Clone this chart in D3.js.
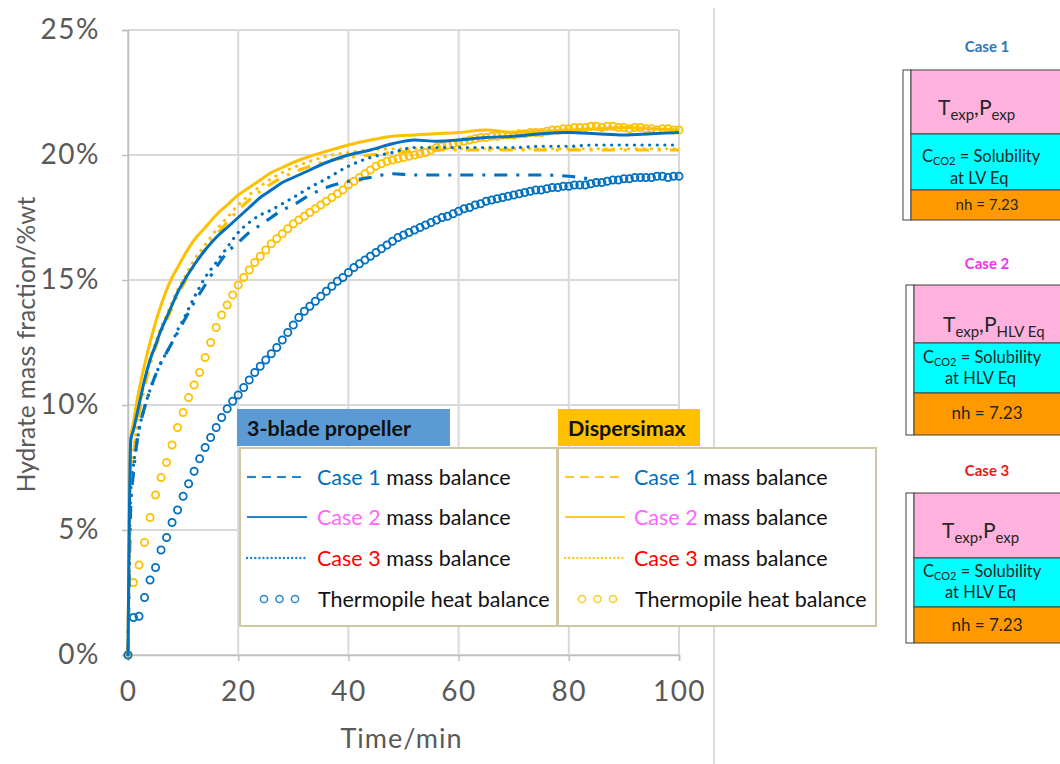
<!DOCTYPE html>
<html>
<head>
<meta charset="utf-8">
<script src="https://cdn.jsdelivr.net/npm/d3@7"></script>
<style>
  body { margin: 0; background: #fff; }
  svg { display: block; font-family: Lato, "Open Sans", sans-serif; }
</style>
</head>
<body>
<svg id="chart" width="1060" height="764"></svg>
<script>
// ---- data ----
const lineTimes = [0, 0.5, 1, 1.5, 2, 3, 4, 5, 6, 7, 8, 9, 10, 12, 14, 16, 18, 20, 22, 24, 26, 28, 30, 33, 36, 40, 44, 48, 52, 56, 60, 65, 70, 75, 80, 85, 90, 95, 100];

const propCase1 = [0, 6.0, 7.3, 8.3, 9.0, 9.9, 10.6, 11.2, 11.7, 12.1, 12.5, 12.9, 13.3, 14.1, 14.8, 15.5, 16.1, 16.5, 16.9, 17.2, 17.5, 17.8, 18.0, 18.4, 18.7, 18.95, 19.1, 19.25, 19.2, 19.2, 19.2, 19.2, 19.2, 19.2, 19.15, 19.0];
const propCase2 = [0, 8.6, 9.0, 9.5, 10.0, 11.0, 11.8, 12.4, 13.0, 13.5, 14.0, 14.5, 14.9, 15.6, 16.2, 16.7, 17.1, 17.5, 17.9, 18.3, 18.6, 18.9, 19.1, 19.4, 19.7, 20.0, 20.2, 20.45, 20.6, 20.55, 20.6, 20.7, 20.75, 20.85, 20.9, 20.85, 20.8, 20.85, 20.9];
const propCase3 = [0, 6.5, 7.6, 8.3, 9.0, 9.9, 10.6, 11.2, 11.7, 12.1, 12.5, 13.0, 13.4, 14.3, 15.1, 15.7, 16.3, 16.9, 17.3, 17.6, 17.8, 18.05, 18.3, 18.7, 19.05, 19.55, 19.9, 20.1, 20.3, 20.3, 20.3, 20.3, 20.3, 20.35, 20.35, 20.4, 20.4, 20.4, 20.4];

const dispCase1 = [0, 6.8, 8.0, 8.8, 9.6, 10.7, 11.6, 12.3, 12.9, 13.4, 13.9, 14.4, 14.8, 15.6, 16.2, 16.8, 17.3, 17.8, 18.2, 18.55, 18.85, 19.1, 19.3, 19.55, 19.75, 19.9, 20.0, 20.1, 20.15, 20.2, 20.2, 20.2, 20.2, 20.2, 20.2, 20.2, 20.2, 20.2, 20.2];
const dispCase2 = [0, 8.7, 9.3, 10.0, 10.6, 11.6, 12.5, 13.3, 14.0, 14.6, 15.1, 15.5, 15.9, 16.6, 17.1, 17.6, 18.0, 18.4, 18.7, 19.0, 19.3, 19.5, 19.7, 19.95, 20.15, 20.4, 20.6, 20.75, 20.8, 20.85, 20.9, 21.0, 20.9, 20.95, 21.0, 21.05, 21.1, 21.05, 21.0];
const dispCase3 = [0, 7.0, 8.2, 9.0, 9.8, 10.9, 11.8, 12.5, 13.1, 13.6, 14.1, 14.6, 15.0, 15.8, 16.4, 17.0, 17.5, 18.0, 18.4, 18.75, 19.05, 19.3, 19.5, 19.75, 19.95, 20.1, 20.2, 20.25, 20.25, 20.25, 20.25, 20.25, 20.25, 20.25, 20.25, 20.25, 20.25, 20.25, 20.25];

// thermopile heat balance, one point per minute
const heatTimes = d3.range(0, 101);
const propHeat = [0, 1.5, 1.55, 2.3, 3.0, 3.5, 4.2, 4.7, 5.3, 5.8, 6.35, 6.85, 7.35, 7.85, 8.3, 8.7, 9.1, 9.5, 9.85, 10.15,
  10.4, 10.7, 11.0, 11.3, 11.55, 11.8, 12.05, 12.3, 12.6, 12.9, 13.2, 13.5, 13.75, 13.95, 14.15, 14.35, 14.55, 14.75, 14.95, 15.1,
  15.3, 15.5, 15.65, 15.8, 15.95, 16.1, 16.25, 16.4, 16.55, 16.7, 16.8, 16.9, 17.0, 17.1, 17.2, 17.3, 17.4, 17.5, 17.55, 17.65,
  17.75, 17.85, 17.9, 18.0, 18.05, 18.15, 18.2, 18.25, 18.3, 18.35, 18.4, 18.45, 18.5, 18.55, 18.6, 18.6, 18.65, 18.7, 18.7, 18.75,
  18.75, 18.8, 18.8, 18.8, 18.85, 18.9, 18.9, 18.95, 19.0, 19.0, 19.05, 19.05, 19.1, 19.1, 19.1, 19.1, 19.15, 19.15, 19.1, 19.15, 19.15];
const dispHeat = [0, 2.9, 3.6, 4.5, 5.5, 6.4, 7.1, 7.7, 8.4, 9.1, 9.7, 10.3, 10.8, 11.3, 11.9, 12.5, 13.1, 13.6, 14.0, 14.4,
  14.8, 15.1, 15.4, 15.7, 15.95, 16.2, 16.45, 16.65, 16.85, 17.05, 17.25, 17.4, 17.55, 17.7, 17.85, 18.0, 18.15, 18.3, 18.45, 18.6,
  18.8, 18.95, 19.1, 19.25, 19.4, 19.55, 19.65, 19.75, 19.8, 19.85, 19.9, 19.95, 20.0, 20.05, 20.1, 20.2, 20.3, 20.35, 20.4, 20.45,
  20.5, 20.55, 20.6, 20.65, 20.7, 20.7, 20.75, 20.75, 20.8, 20.8, 20.8, 20.85, 20.85, 20.9, 20.9, 20.9, 20.95, 21.0, 21.0, 21.05,
  21.05, 21.1, 21.1, 21.1, 21.15, 21.15, 21.1, 21.15, 21.15, 21.1, 21.1, 21.05, 21.1, 21.1, 21.05, 21.05, 21.0, 21.05, 21.05, 21.0, 21.0];

const xTicks = [0, 20, 40, 60, 80, 100];
const yTicks = [0, 5, 10, 15, 20, 25];

const legendGroups = ["3-blade propeller", "Dispersimax"];
const legendCases = ["Case 1", "Case 2", "Case 3"];
const legendRest = ["mass balance", "mass balance", "mass balance"];
const heatLabel = "Thermopile heat balance";

const panelTitles = ["Case 1", "Case 2", "Case 3"];
const panelPressure = ["exp", "HLV Eq", "exp"];
const panelSolubility = ["at LV Eq", "at HLV Eq", "at HLV Eq"];
const panelNh = ["nh = 7.23", "nh = 7.23", "nh = 7.23"];

// ---- styling ----
const blue = "#0070C0";
const gold = "#FFC000";
const caseColors = ["#0070C0", "#FF66FF", "#FF0000"];
const titleColors = ["#2E75B6", "#EE33EE", "#E81818"];
const axisGray = "#595959";

const svg = d3.select("#chart");
const margin = { top: 30, right: 381, bottom: 109, left: 128 };
const width = 1060 - margin.left - margin.right;
const height = 764 - margin.top - margin.bottom;

const g = svg.append("g").attr("transform", `translate(${margin.left},${margin.top})`);

const x = d3.scaleLinear().domain([0, 100]).range([0, width]);
const y = d3.scaleLinear().domain([0, 25]).range([height, 0]);

// grid
g.selectAll(".vgrid").data(xTicks).enter().append("line")
  .attr("x1", d => x(d)).attr("x2", d => x(d))
  .attr("y1", 0).attr("y2", height)
  .style("stroke", "#D9D9D9").style("stroke-width", 2);
g.selectAll(".hgrid").data(yTicks).enter().append("line")
  .attr("x1", 0).attr("x2", width)
  .attr("y1", d => y(d)).attr("y2", d => y(d))
  .style("stroke", "#D9D9D9").style("stroke-width", 2);

// axes
const xAxis = g.append("g")
  .attr("transform", `translate(0,${height})`)
  .call(d3.axisBottom(x).tickValues(xTicks).tickSize(6).tickPadding(20));
const yAxis = g.append("g")
  .call(d3.axisLeft(y).tickValues(yTicks).tickSize(6).tickPadding(22).tickFormat(d => d + "%"));
[xAxis, yAxis].forEach(a => {
  a.select(".domain").style("stroke", "#BFBFBF").style("stroke-width", 1.5);
  a.selectAll(".tick line").style("stroke", "#BFBFBF").style("stroke-width", 1.5);
  a.selectAll("text")
    .style("font-family", "Lato, sans-serif").style("font-size", "28px")
    .style("letter-spacing", "1.5px").style("fill", axisGray);
});

svg.append("text")
  .attr("x", margin.left + width / 2 - 2)
  .attr("y", 748)
  .attr("text-anchor", "middle")
  .style("font-size", "27px").style("letter-spacing", "1px").style("fill", axisGray)
  .text("Time/min");

svg.append("text")
  .attr("transform", `translate(35,${margin.top + height / 2 + 2}) rotate(-90)`)
  .attr("text-anchor", "middle")
  .style("font-size", "24.5px").style("fill", axisGray)
  .text("Hydrate mass fraction/%wt");

// separator
svg.append("line")
  .attr("x1", 714).attr("x2", 714).attr("y1", 8).attr("y2", 764)
  .style("stroke", "#D0D0D0").style("stroke-width", 1.5);

// series
const line = d3.line()
  .x(d => x(d.t)).y(d => y(d.v))
  .curve(d3.curveMonotoneX);

const pair = vals => vals.map((v, i) => ({ t: lineTimes[i], v: v }));
const pairHeat = vals => vals.map((v, i) => ({ t: heatTimes[i], v: v }));

const dashStyles = {
  dashdot: "13 9 3 9",
  solid: null,
  dotted: "0.1 7.5"
};

const lineSeries = [
  { vals: dispCase3, color: gold, style: "dotted" },
  { vals: dispCase1, color: gold, style: "dashdot" },
  { vals: propCase3, color: blue, style: "dotted" },
  { vals: propCase1, color: blue, style: "dashdot" },
  { vals: dispCase2, color: gold, style: "solid" },
  { vals: propCase2, color: blue, style: "solid" }
];

const heatSeries = [
  { vals: dispHeat, color: gold },
  { vals: propHeat, color: blue }
];

heatSeries.forEach(s => {
  g.append("g").selectAll("circle")
    .data(pairHeat(s.vals))
    .enter().append("circle")
    .attr("cx", d => x(d.t)).attr("cy", d => y(d.v))
    .attr("r", 3.6)
    .style("fill", "none")
    .style("stroke", s.color)
    .style("stroke-width", 1.8);
});

lineSeries.forEach(s => {
  g.append("path")
    .attr("d", line(pair(s.vals)))
    .style("fill", "none")
    .style("stroke", s.color)
    .style("stroke-width", s.style === "solid" ? 3 : 3.2)
    .style("stroke-linecap", s.style === "dotted" ? "round" : "butt")
    .style("stroke-dasharray", dashStyles[s.style]);
});

// legends
const legendBoxes = [
  { left: 240, right: 557, head: [237, 450], color: "#5B9BD5", sample: blue, sx: 247, tx: 317 },
  { left: 558, right: 876, head: [558, 700], color: gold, sample: gold, sx: 565, tx: 634 }
];
const rowY = [477, 517, 558, 599];

legendBoxes.forEach((b, gi) => {
  svg.append("rect")
    .attr("x", b.head[0]).attr("y", 409)
    .attr("width", b.head[1] - b.head[0]).attr("height", 37)
    .style("fill", b.color);
  svg.append("text")
    .attr("x", b.head[0] + 10).attr("y", 436)
    .style("font-size", "21.5px").style("font-weight", "bold").style("fill", "#111")
    .text(legendGroups[gi]);

  svg.append("rect")
    .attr("x", b.left).attr("y", 448)
    .attr("width", b.right - b.left).attr("height", 178)
    .style("fill", "#fff")
    .style("stroke", "#CFC6A4").style("stroke-width", 2);

  const styles = ["dash", "solid", "dotted"];
  styles.forEach((st, i) => {
    svg.append("line")
      .attr("x1", b.sx).attr("x2", b.sx + 60)
      .attr("y1", rowY[i]).attr("y2", rowY[i])
      .style("stroke", b.sample)
      .style("stroke-width", st === "dotted" ? 2.4 : 2.2)
      .style("stroke-linecap", st === "dotted" ? "round" : "butt")
      .style("stroke-dasharray", st === "dash" ? "9 6" : st === "dotted" ? "0.1 4" : null)
      .style("opacity", 0.85);

    const t = svg.append("text")
      .attr("x", b.tx).attr("y", rowY[i] + 7.5)
      .style("font-size", "21.5px");
    t.append("tspan").style("fill", caseColors[i]).text(legendCases[i]);
    t.append("tspan").style("fill", "#111").text(" " + legendRest[i]);
  });

  svg.selectAll(null).data([0, 1, 2]).enter().append("circle")
    .attr("cx", d => b.sx + 17 + d * 15.5)
    .attr("cy", rowY[3])
    .attr("r", 3.6)
    .style("fill", "none")
    .style("stroke", b.sample)
    .style("stroke-width", 1.5)
    .style("opacity", 0.85);
  svg.append("text")
    .attr("x", b.tx + 1).attr("y", rowY[3] + 7.5)
    .style("font-size", "21.5px").style("fill", "#111")
    .text(heatLabel);
});

// case panels on the right
const panelLayout = [
  { title: 47, left: 903, rows: [70, 134, 190, 220], tx: [938, 922, 950], base: [115, 162, 184, 210], nhSize: 15 },
  { title: 264, left: 906, rows: [285, 343, 393, 435], tx: [943, 923, 945], base: [332, 363, 384, 419], nhSize: 17 },
  { title: 471, left: 906, rows: [493, 558, 607, 643], tx: [942, 923, 945], base: [538, 577, 598, 631], nhSize: 17 }
];
const fills = ["#FFB2DE", "#00FFFF", "#FF9900"];
const ink = "#262626";

panelLayout.forEach((p, i) => {
  svg.append("text")
    .attr("x", 987).attr("y", p.title + 5)
    .attr("text-anchor", "middle")
    .style("font-size", "15px").style("font-weight", "bold")
    .style("fill", titleColors[i])
    .text(panelTitles[i]);

  svg.append("rect")
    .attr("x", p.left).attr("y", p.rows[0])
    .attr("width", 8).attr("height", p.rows[3] - p.rows[0])
    .style("fill", "#fff").style("stroke", "#404040").style("stroke-width", 1);
  fills.forEach((f, k) => {
    svg.append("rect")
      .attr("x", p.left + 8).attr("y", p.rows[k])
      .attr("width", 1070 - p.left).attr("height", p.rows[k + 1] - p.rows[k])
      .style("fill", f).style("stroke", "#404040").style("stroke-width", 1);
  });

  // T_exp, P_...
  const tp = svg.append("text")
    .attr("x", p.tx[0]).attr("y", p.base[0])
    .style("font-size", "21px").style("fill", ink);
  tp.append("tspan").text("T");
  tp.append("tspan").attr("dy", 5).style("font-size", "15px").text("exp");
  tp.append("tspan").attr("dy", -5).text(",P");
  tp.append("tspan").attr("dy", 5).style("font-size", "15px").text(panelPressure[i]);

  // C_CO2 = Solubility
  const c = svg.append("text")
    .attr("x", p.tx[1]).attr("y", p.base[1])
    .style("font-size", "16.5px").style("fill", ink);
  c.append("tspan").text("C");
  c.append("tspan").attr("dy", 3).style("font-size", "11px").text("CO2");
  c.append("tspan").attr("dy", -3).text(" = Solubility");
  svg.append("text")
    .attr("x", p.tx[2]).attr("y", p.base[2])
    .style("font-size", "16.5px").style("fill", ink)
    .text(panelSolubility[i]);

  svg.append("text")
    .attr("x", 987).attr("y", p.base[3])
    .attr("text-anchor", "middle")
    .style("font-size", p.nhSize + "px").style("fill", ink)
    .text(panelNh[i]);
});
</script>
</body>
</html>
